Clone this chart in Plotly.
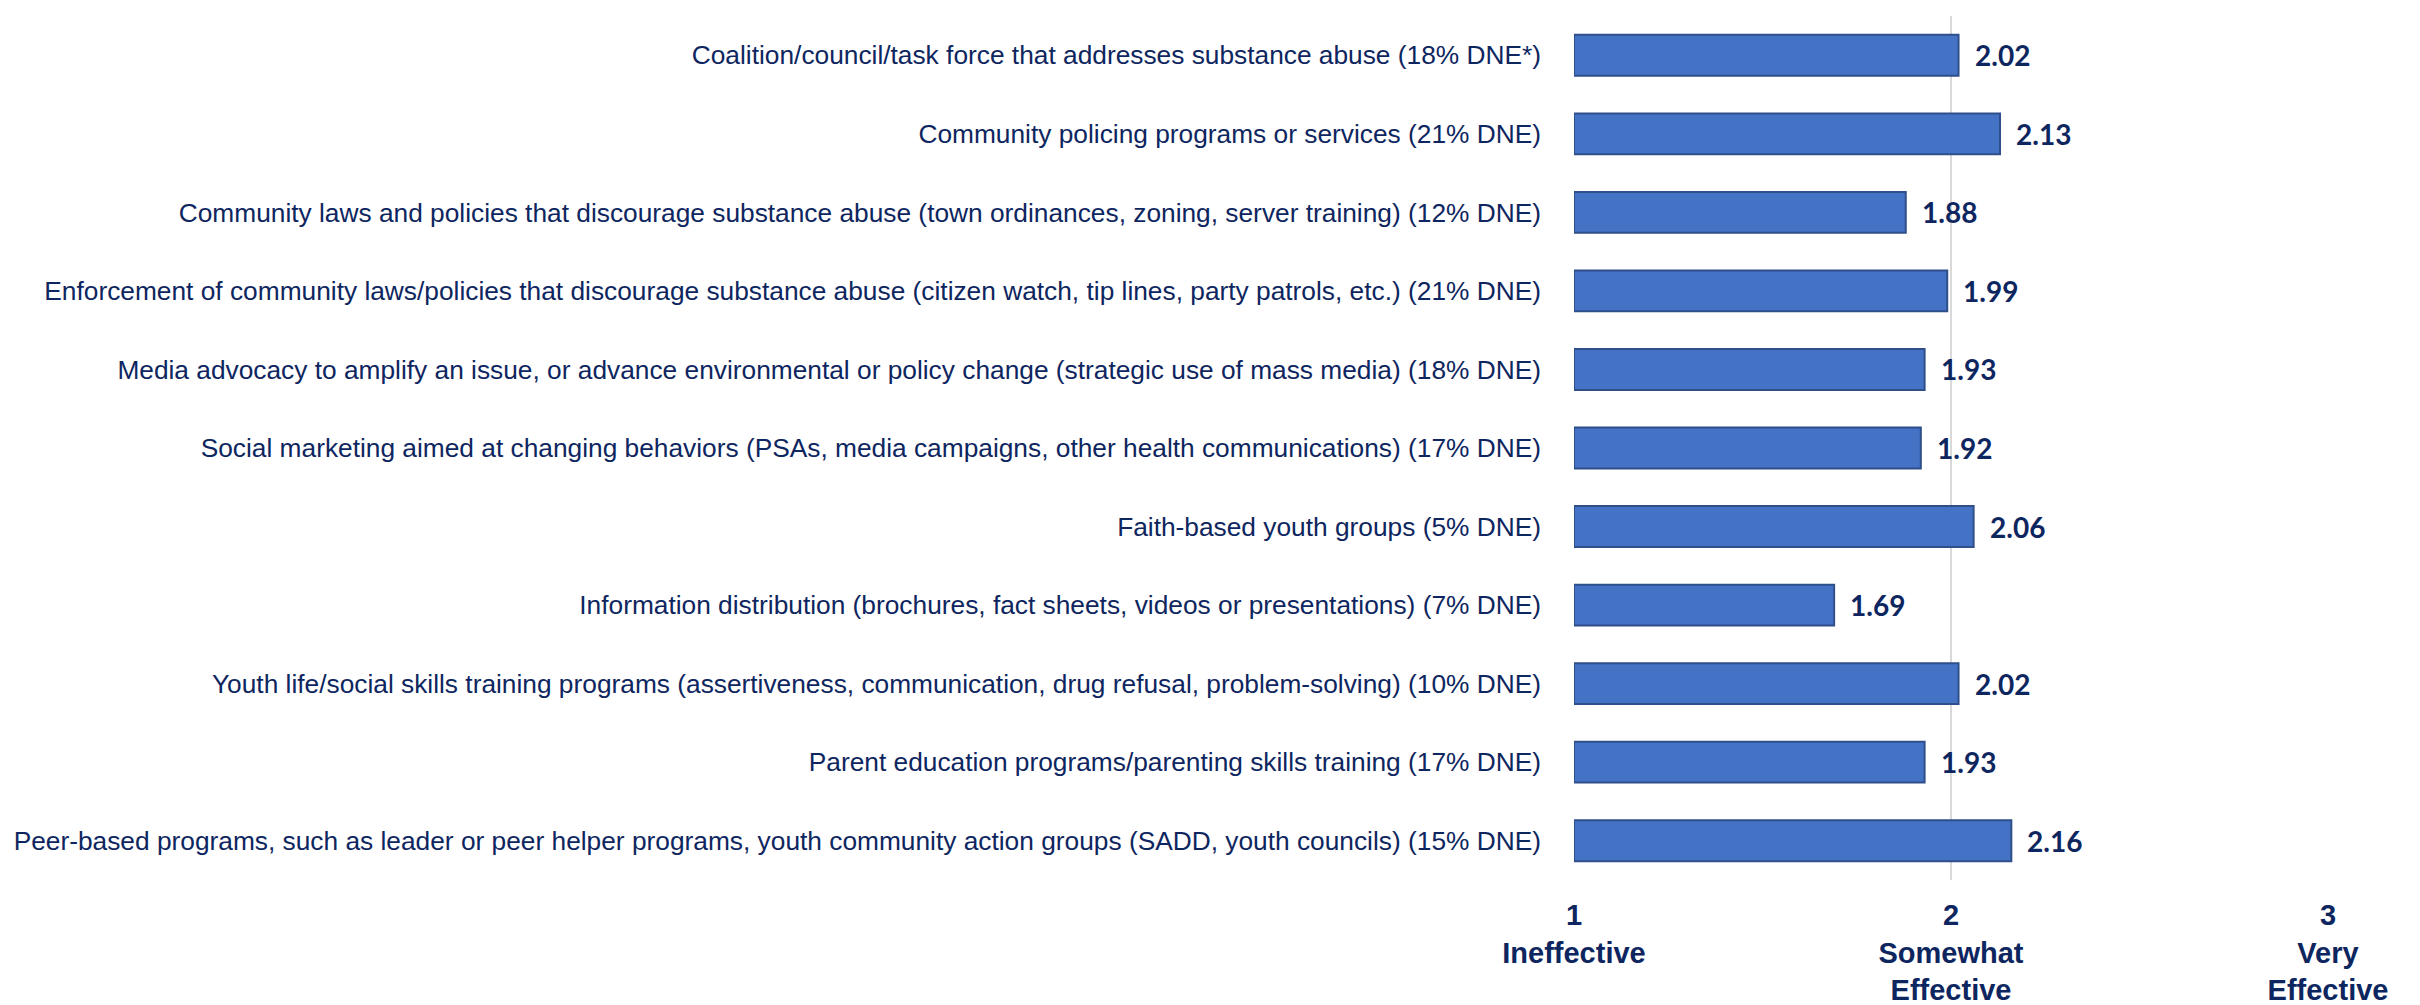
import plotly.graph_objects as go

categories = [
    "Coalition/council/task force that addresses substance abuse (18% DNE*)",
    "Community policing programs or services (21% DNE)",
    "Community laws and policies that discourage substance abuse (town ordinances, zoning, server training) (12% DNE)",
    "Enforcement of community laws/policies that discourage substance abuse (citizen watch, tip lines, party patrols, etc.) (21% DNE)",
    "Media advocacy to amplify an issue, or advance environmental or policy change (strategic use of mass media) (18% DNE)",
    "Social marketing aimed at changing behaviors (PSAs, media campaigns, other health communications) (17% DNE)",
    "Faith-based youth groups (5% DNE)",
    "Information distribution (brochures, fact sheets, videos or presentations) (7% DNE)",
    "Youth life/social skills training programs (assertiveness, communication, drug refusal, problem-solving) (10% DNE)",
    "Parent education programs/parenting skills training (17% DNE)",
    "Peer-based programs, such as leader or peer helper programs, youth community action groups (SADD, youth councils) (15% DNE)",
]
values = [2.02, 2.13, 1.88, 1.99, 1.93, 1.92, 2.06, 1.69, 2.02, 1.93, 2.16]

tick_vals = [1, 2, 3]
tick_nums = ["1", "2", "3"]
tick_words = [["Ineffective"], ["Somewhat", "Effective"], ["Very", "Effective"]]

NAVY = "#0E2660"
BASE = 1

fig = go.Figure()
fig.add_trace(go.Bar(
    y=categories,
    x=[v - BASE for v in values],
    base=BASE,
    orientation="h",
    marker=dict(color="#4472C4", line=dict(color="#2F4F8A", width=2)),
    width=0.52,
    hoverinfo="skip",
))

for c, v in zip(categories, values):
    fig.add_annotation(
        x=v, y=c, text=f"<b>{v:.2f}</b>", showarrow=False,
        xanchor="left", yanchor="middle", xshift=14,
        font=dict(family="Lato", size=28, color=NAVY),
    )

ticktext = ["<br>".join([f"<b>{n}</b>"] + [f"<b>{w}</b>" for w in words])
            for n, words in zip(tick_nums, tick_words)]

fig.update_layout(
    width=2420, height=1005,
    margin=dict(l=1566, r=100, t=8, b=133),
    paper_bgcolor="white", plot_bgcolor="white",
    showlegend=False,
    xaxis=dict(
        range=[1, 3], tickvals=tick_vals, ticktext=ticktext,
        showgrid=True, gridcolor="#D9D9D9", gridwidth=2,
        zeroline=False, showline=False, automargin=False,
        tickfont=dict(family="Liberation Sans", size=29, color=NAVY),
        ticks="", ticklabelstandoff=15,
    ),
    yaxis=dict(
        autorange="reversed", showgrid=False, showline=False, zeroline=False,
        automargin=False,
        tickfont=dict(family="Liberation Sans", size=26.3, color=NAVY),
        ticks="", ticklabelstandoff=32,
    ),
)

fig.write_html("out.html")
